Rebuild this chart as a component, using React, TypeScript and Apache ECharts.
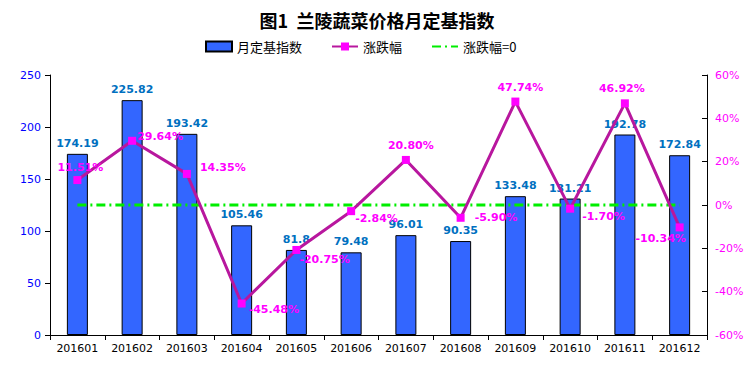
import React, { useEffect, useRef } from "react";
import * as echarts from "echarts";

const categories = ["201601", "201602", "201603", "201604", "201605", "201606", "201607", "201608", "201609", "201610", "201611", "201612"];
const indexValues = [174.19, 225.82, 193.42, 105.46, 81.8, 79.48, 96.01, 90.35, 133.48, 131.21, 192.78, 172.84];
const changeValues = [11.51, 29.64, 14.35, -45.48, -20.75, -2.84, 20.8, -5.9, 47.74, -1.7, 46.92, -10.34];
const zeroLine = [0, 0, 0, 0, 0, 0, 0, 0, 0, 0, 0, 0];
const leftTicks = { min: 0, max: 250, interval: 50 };
const rightTicks = { min: -60, max: 60, interval: 20 };

// label placements for the change-rate line (style only)
const changeLabelLayout: [string, number[]][] = [
  ["top", [3, 2]],
  ["right", [-4, -4]],
  ["right", [4, -6]],
  ["right", [-2, 6]],
  ["right", [-6, 10]],
  ["right", [-5, 7]],
  ["top", [5, 0]],
  ["right", [5, 0]],
  ["top", [5, 0]],
  ["right", [3, 8]],
  ["top", [-3, 0]],
  ["bottom", [-19, -3]],
];

const NUM_FONT = "'DejaVu Sans', Verdana, sans-serif";
const CJK_FONT = "'Noto Sans CJK SC', sans-serif";

export default function App() {
  const ref = useRef<HTMLDivElement>(null);
  useEffect(() => {
    if (!ref.current) return;
    const chart = echarts.init(ref.current, undefined, { renderer: "svg" });
    chart.setOption({
      animation: false,
      backgroundColor: "#ffffff",
      title: {
        text: "图1  兰陵蔬菜价格月定基指数",
        left: "center",
        top: 6,
        textStyle: { fontFamily: CJK_FONT, fontSize: 18, fontWeight: "bold", color: "#000" },
      },
      legend: {
        top: 35,
        left: 200,
        itemWidth: 26,
        itemHeight: 10,
        itemGap: 29,
        textStyle: { fontFamily: CJK_FONT, fontSize: 13, color: "#000" },
        data: [
          { name: "月定基指数", icon: "rect" },
          "涨跌幅",
          { name: "涨跌幅=0", itemStyle: { opacity: 0 } },
        ],
      },
      grid: { left: 50, right: 47, top: 75, bottom: 31 },
      xAxis: {
        type: "category",
        data: categories,
        axisLine: { lineStyle: { color: "#000", width: 1 } },
        axisTick: { show: true, length: 5, lineStyle: { color: "#000" } },
        axisLabel: { color: "#000", fontFamily: NUM_FONT, fontSize: 11, margin: 8 },
      },
      yAxis: [
        {
          type: "value",
          min: leftTicks.min,
          max: leftTicks.max,
          interval: leftTicks.interval,
          splitLine: { show: false },
          axisLine: { show: true, lineStyle: { color: "#000" } },
          axisTick: { show: true, length: 5, lineStyle: { color: "#000" } },
          axisLabel: { color: "#0000FF", fontFamily: NUM_FONT, fontSize: 11, margin: 9 },
        },
        {
          type: "value",
          min: rightTicks.min,
          max: rightTicks.max,
          interval: rightTicks.interval,
          splitLine: { show: false },
          axisLine: { show: true, lineStyle: { color: "#000" } },
          axisTick: { show: true, inside: true, length: 5, lineStyle: { color: "#000" } },
          axisLabel: { color: "#FF00FF", fontFamily: NUM_FONT, fontSize: 11, margin: 8, formatter: "{value}%" },
        },
      ],
      series: [
        {
          name: "月定基指数",
          type: "bar",
          yAxisIndex: 0,
          data: indexValues,
          barWidth: 21,
          itemStyle: { color: "#3366FF", borderColor: "#000", borderWidth: 1 },
          label: {
            show: true,
            position: "top",
            distance: 5,
            color: "#0070C0",
            fontFamily: NUM_FONT,
            fontSize: 11,
            fontWeight: "bold",
          },
          z: 1,
        },
        {
          name: "涨跌幅=0",
          type: "line",
          yAxisIndex: 1,
          data: zeroLine,
          symbol: "none",
          lineStyle: { color: "#00EE00", width: 3, type: [9, 4, 2, 4] },
          itemStyle: { color: "#00EE00" },
          z: 2,
        },
        {
          name: "涨跌幅",
          type: "line",
          yAxisIndex: 1,
          data: changeValues.map((v, i) => ({
            value: v,
            label: { position: changeLabelLayout[i][0], offset: changeLabelLayout[i][1] },
          })),
          symbol: "rect",
          symbolSize: 8,
          lineStyle: { color: "#B8179E", width: 3 },
          itemStyle: { color: "#FF00FF" },
          label: {
            show: true,
            color: "#FF00FF",
            fontFamily: NUM_FONT,
            fontSize: 11,
            fontWeight: "bold",
            formatter: (p: any) => Number(p.value).toFixed(2) + "%",
          },
          z: 3,
        },
      ],
    });
    return () => chart.dispose();
  }, []);
  return <div ref={ref} style={{ position: "absolute", left: 0, top: 0, width: 754, height: 366 }} />;
}
